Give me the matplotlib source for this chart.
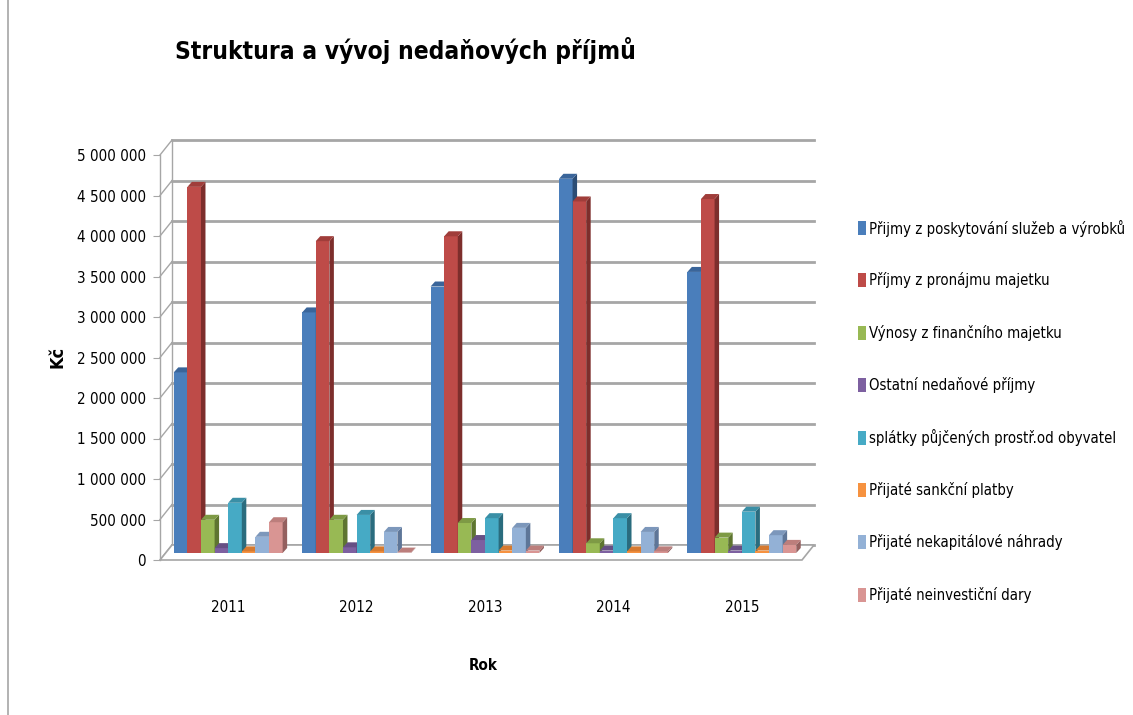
import matplotlib
matplotlib.use('Agg')
import matplotlib.pyplot as plt
from matplotlib.patches import Polygon, Rectangle
from matplotlib.lines import Line2D
from matplotlib import font_manager as fm
import numpy as np

_entries = fm.fontManager.ttflist


def _has(name, stretches=None):
    return any(e.name == name and (stretches is None or str(e.stretch) in stretches) for e in _entries)


if _has('Liberation Sans Narrow'):
    FAM, STR = ['Liberation Sans Narrow', 'DejaVu Sans'], 'normal'
elif _has('DejaVu Sans', ('condensed', 'semi-condensed', 'extra-condensed')):
    FAM, STR = ['DejaVu Sans'], 'condensed'
elif _has('Roboto Condensed'):
    FAM, STR = ['Roboto Condensed', 'DejaVu Sans'], 'normal'
else:
    FAM, STR = ['Liberation Sans', 'DejaVu Sans'], 'normal'
plt.rcParams['font.family'] = FAM
plt.rcParams['font.stretch'] = STR

years = ['2011', '2012', '2013', '2014', '2015']
series_names = [
    'Přijmy z poskytování služeb a výrobků',
    'Příjmy z pronájmu majetku',
    'Výnosy z finančního majetku',
    'Ostatní nedaňové příjmy',
    'splátky půjčených prostř.od obyvatel',
    'Přijaté sankční platby',
    'Přijaté nekapitálové náhrady',
    'Přijaté neinvestiční dary',
]
prijmy_sluzby = [2230000, 2970000, 3290000, 4620000, 3470000]
prijmy_pronajem = [4520000, 3850000, 3910000, 4340000, 4370000]
vynosy_financni = [410000, 410000, 370000, 120000, 190000]
ostatni_nedanove = [60000, 70000, 160000, 30000, 30000]
splatky_pujcek = [620000, 470000, 430000, 430000, 510000]
sankcni_platby = [20000, 20000, 30000, 20000, 30000]
nekapitalove_nahrady = [200000, 260000, 310000, 260000, 220000]
neinvesticni_dary = [380000, 5000, 30000, 20000, 100000]
series_values = [prijmy_sluzby, prijmy_pronajem, vynosy_financni, ostatni_nedanove,
                 splatky_pujcek, sankcni_platby, nekapitalove_nahrady, neinvesticni_dary]

ytick_values = [0, 500000, 1000000, 1500000, 2000000, 2500000, 3000000, 3500000, 4000000, 4500000, 5000000]
ytick_labels = ['0', '500 000', '1 000 000', '1 500 000', '2 000 000', '2 500 000',
                '3 000 000', '3 500 000', '4 000 000', '4 500 000', '5 000 000']

front_colors = ['#4A7EBB', '#BE4B48', '#98B954', '#7D60A0', '#46AAC5', '#F69240', '#93B1D6', '#D99593']
side_colors = ['#2C4D75', '#7D2E2C', '#5E7530', '#4D3A63', '#2A6C7E', '#A65C1E', '#5E7698', '#94605F']
top_colors = ['#3A659A', '#A03D3A', '#7E9A45', '#664F84', '#3A8FA6', '#D67A30', '#7C97BB', '#BC7E7C']

W, H = 1133, 715
fig = plt.figure(figsize=(W / 100, H / 100), dpi=100)


def fx(px):
    return px / W


def fy(py):
    return 1 - py / H


L, R, T, B = 160, 802, 155, 560
ax = fig.add_axes([fx(L), fy(B), (R - L) / W, (B - T) / H])
ax.set_xlim(-0.5, 4.5)
ax.set_ylim(0, 5000000)
sx = 5.0 / (R - L)
sy = 5000000.0 / (B - T)

WX, WY = 12 * sx, 15 * sy   # back wall offset
BX, BY = 4 * sx, 7 * sy     # bar plane offset
DX, DY = 4.5 * sx, 5 * sy   # bar depth

grid_c = '#A6A6A6'
x0, x1 = -0.5, 4.5
for v in ytick_values:
    ax.plot([x0 + WX, x1 + WX], [v + WY, v + WY], color=grid_c, lw=2.0, clip_on=False, zorder=1)
    ax.plot([x0, x0 + WX], [v, v + WY], color=grid_c, lw=1.0, clip_on=False, zorder=1)
ax.plot([x0 + WX, x0 + WX], [WY, 5000000 + WY], color=grid_c, lw=1.0, clip_on=False, zorder=1)

floor = Polygon([(x0, 0), (x1, 0), (x1 + WX, WY), (x0 + WX, WY)], closed=True,
                facecolor='white', edgecolor=grid_c, lw=1.2, zorder=1.5, clip_on=False)
ax.add_patch(floor)

nser = len(series_values)
w = 0.106
centers = np.arange(len(years))
for j, vals in enumerate(series_values):
    xs = centers - nser * w / 2 + j * w + BX
    z = 3 + j
    ax.bar(xs, vals, width=w, bottom=BY, align='edge', color=front_colors[j],
           zorder=z, linewidth=0)
    for xi, v in zip(xs, vals):
        top = Polygon([(xi, BY + v), (xi + w, BY + v), (xi + w + DX, BY + v + DY), (xi + DX, BY + v + DY)],
                      closed=True, facecolor=top_colors[j], edgecolor='none', zorder=z, clip_on=False)
        side = Polygon([(xi + w, BY), (xi + w + DX, BY + DY), (xi + w + DX, BY + v + DY), (xi + w, BY + v)],
                       closed=True, facecolor=side_colors[j], edgecolor='none', zorder=z, clip_on=False)
        ax.add_patch(side)
        ax.add_patch(top)

for s in ['top', 'right', 'bottom']:
    ax.spines[s].set_visible(False)
ax.spines['left'].set_color(grid_c)
ax.spines['left'].set_linewidth(1.0)
ax.set_yticks(ytick_values)
ax.set_yticklabels(ytick_labels, fontsize=12.5)
ax.tick_params(axis='y', direction='out', length=5, color=grid_c, pad=5)
ax.set_xticks(centers + BX)
ax.set_xticklabels(years, fontsize=12.5)
ax.tick_params(axis='x', length=0, pad=29)
ax.patch.set_alpha(0)

t_kc = fig.text(fx(57), fy(357), 'Kč', rotation=90, ha='center', va='center', fontsize=13, fontweight='bold')
t_rok = fig.text(fx(483), fy(665), 'Rok', ha='center', va='center', fontsize=13, fontweight='bold')
t_title = fig.text(fx(175), fy(50), 'Struktura a vývoj nedaňových příjmů', ha='left', va='center',
                   fontsize=25, fontweight='bold')

leg_texts = []
for k, name in enumerate(series_names):
    yc = 228 + k * 52.4
    fig.add_artist(Rectangle((fx(858), fy(yc + 7)), 8 / W, 14 / H, transform=fig.transFigure,
                             facecolor=front_colors[k], edgecolor='none'))
    leg_texts.append(fig.text(fx(869), fy(yc), name, ha='left', va='center', fontsize=12.5))

fig.add_artist(Line2D([fx(8), fx(8)], [0, 1], color='#A6A6A6', lw=1.2, transform=fig.transFigure))

# fit font sizes to the widths measured in the reference
fig.canvas.draw()
rend = fig.canvas.get_renderer()


def fit_size(t, target, vertical=False, maxsize=None):
    bb = t.get_window_extent(rend)
    cur = bb.height if vertical else bb.width
    fs = t.get_fontsize() * target / cur
    if maxsize is not None:
        fs = min(fs, maxsize)
    return fs


fs_title = fit_size(t_title, 460, maxsize=24)
t_title.set_fontsize(fs_title)
fs_leg = fit_size(leg_texts[0], 257, maxsize=14)
for t in leg_texts:
    t.set_fontsize(fs_leg)
fs_kc = fit_size(t_kc, 22, vertical=True, maxsize=14)
t_kc.set_fontsize(fs_kc)
t_rok.set_fontsize(fit_size(t_rok, 29, maxsize=14))
ylab = ax.get_yticklabels()[-1]
fs_y = fit_size(ylab, 69, maxsize=14)
ax.tick_params(axis='y', labelsize=fs_y)
ax.tick_params(axis='x', labelsize=fs_y)

fig.savefig('out.png', dpi=100)
